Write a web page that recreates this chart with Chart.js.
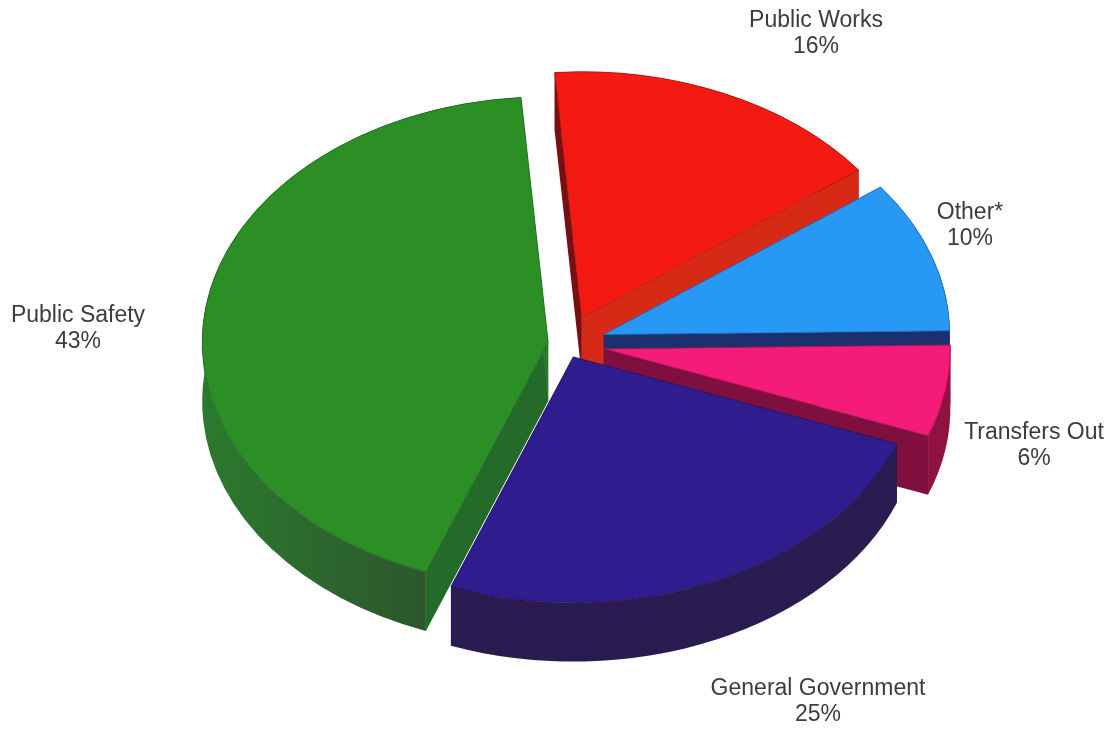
<!DOCTYPE html>
<html>
<head>
<meta charset="utf-8">
<title>Expenditures by function</title>
<style>
  html, body { margin: 0; padding: 0; background: #fff; }
  canvas { display: block; }
</style>
<script src="https://cdn.jsdelivr.net/npm/chart.js@4/dist/chart.umd.min.js"></script>
</head>
<body>
<canvas id="pie" width="1112" height="732"></canvas>
<script>
// slices run clockwise from just left of twelve o'clock
var categories = ['Public Works', 'Other*', 'Transfers Out', 'General Government', 'Public Safety'];
var percents = [16, 10, 6, 25, 43];

// look of each slice, same order as categories
var topColors = ['#f41a12', '#2798f4', '#f41c78', '#2f1c8e', '#2b8f26'];
var edgeColors = ['#a81812', '#1f6fb8', '#a8144f', '#241660', '#1f6a1e'];
var rimLeftColors = ['#7a0e12', '#1c3070', '#7c0f3e', '#2a1b52', '#2c7a2e'];
var rimRightColors = ['#7a0e12', '#1c3070', '#8f1240', '#2a1c50', '#2c462c'];
var startFaceColors = ['#7a0e12', '#1c3070', '#7c0f3e', '#2a1c50', '#246b2a'];
var endFaceColors = ['#d62a17', '#1c3070', '#7f0f3f', '#2a1c50', '#2c7a30'];
var explode = [41, 41, 40, 20, 17];
var sideOrder = [0, 1, 2, 4, 3];
var labelSpots = [[816, 21], [970, 213], [1034, 433], [818, 689], [78, 316]];

var tilt = 0.71;
var depth = 59;

function drawSides(ctx, arc, i) {
  var mid = (arc.startAngle + arc.endAngle) / 2;
  var cx = arc.x + Math.cos(mid) * explode[i];
  var cy = arc.y + Math.sin(mid) * explode[i] * tilt;
  var r = arc.outerRadius;
  var corner = function (a) {
    return [cx + Math.cos(a) * r, cy + Math.sin(a) * r * tilt];
  };
  var face = function (a, color) {
    var p = corner(a);
    ctx.fillStyle = color;
    ctx.beginPath();
    ctx.moveTo(cx, cy);
    ctx.lineTo(p[0], p[1]);
    ctx.lineTo(p[0], p[1] + depth);
    ctx.lineTo(cx, cy + depth);
    ctx.closePath();
    ctx.fill();
  };

  // rim shading runs left to right across the slice
  var grad = ctx.createLinearGradient(cx - r, 0, cx - r * 0.05, 0);
  grad.addColorStop(0, rimLeftColors[i]);
  grad.addColorStop(1, rimRightColors[i]);

  face(arc.startAngle, startFaceColors[i]);
  ctx.fillStyle = i === 4 ? grad : rimRightColors[i];
  ctx.beginPath();
  ctx.ellipse(cx, cy, r, r * tilt, 0, arc.startAngle, arc.endAngle);
  ctx.ellipse(cx, cy + depth, r, r * tilt, 0, arc.endAngle, arc.startAngle, true);
  ctx.closePath();
  ctx.fill();
  face(arc.endAngle, endFaceColors[i]);
}

// squashes the flat pie into an exploded disc with a rim under it
var tiltedPie = {
  id: 'tiltedPie',
  beforeDatasetDraw: function (chart, args) {
    var ctx = chart.ctx;
    var arcs = args.meta.data;

    sideOrder.forEach(function (i) {
      drawSides(ctx, arcs[i], i);
    });

    arcs.forEach(function (arc, i) {
      var mid = (arc.startAngle + arc.endAngle) / 2;
      ctx.save();
      ctx.translate(arc.x, arc.y);
      ctx.scale(1, tilt);
      ctx.translate(-arc.x, -arc.y);
      ctx.translate(Math.cos(mid) * explode[i], Math.sin(mid) * explode[i]);
      arc.draw(ctx);
      ctx.restore();
    });
    return false;
  },
  afterDraw: function (chart) {
    var ctx = chart.ctx;
    ctx.save();
    ctx.fillStyle = '#3c3c3c';
    ctx.font = '23px "Liberation Sans", Arial, sans-serif';
    ctx.textAlign = 'center';
    ctx.textBaseline = 'middle';
    categories.forEach(function (name, i) {
      ctx.fillText(name, labelSpots[i][0], labelSpots[i][1]);
      ctx.fillText(percents[i] + '%', labelSpots[i][0], labelSpots[i][1] + 26);
    });
    ctx.restore();
  }
};

var context = document.getElementById('pie').getContext('2d');
var pieChart = new Chart(context, {
  type: 'pie',
  data: {
    labels: categories,
    datasets: [{
      data: percents,
      backgroundColor: topColors,
      borderColor: edgeColors,
      borderWidth: 1,
      clip: false
    }]
  },
  options: {
    responsive: false,
    animation: false,
    rotation: -4.5,
    radius: 346,
    layout: { padding: { left: 18, right: 0, top: 0, bottom: 44 } },
    plugins: {
      legend: { display: false },
      tooltip: { enabled: false }
    }
  },
  plugins: [tiltedPie]
});
</script>
</body>
</html>
